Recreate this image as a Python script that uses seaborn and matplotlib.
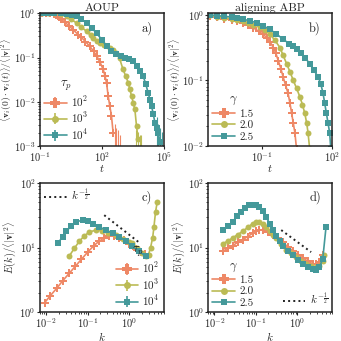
import numpy as np
import matplotlib
matplotlib.use("Agg")
import matplotlib.pyplot as plt
import seaborn as sns
from matplotlib.lines import Line2D
from matplotlib.collections import LineCollection
from matplotlib.container import ErrorbarContainer

sns.set_theme(style="ticks")
plt.rcParams.update({
    "font.family": "serif",
    "font.serif": ["cmr10", "DejaVu Serif"],
    "mathtext.fontset": "cm",
    "axes.formatter.use_mathtext": True,
    "font.size": 8,
    "axes.linewidth": 1.1,
    "axes.edgecolor": "#222222",
})

colors = ["#EE8866", "#BBBB55", "#44999A"]
markers = ["P", "o", "s"]

# ---- panel a: AOUP velocity autocorrelation (log10 values)
tau_labels = [r"$10^2$", r"$10^3$", r"$10^4$"]
a_logt_1 = [-0.9, -0.7, -0.5, -0.3, -0.2, -0.1, 0.0, 0.2, 0.4, 0.6, 0.85, 1.0, 1.2, 1.4, 1.6,
            1.75, 1.9, 2.06, 2.15, 2.22, 2.3, 2.38, 2.46, 2.54]
a_logc_1 = [0, 0, 0, -0.01, -0.04, -0.08, -0.12, -0.2, -0.28, -0.37, -0.48, -0.54, -0.64, -0.74, -0.86,
            -0.97, -1.10, -1.27, -1.42, -1.57, -1.87, -2.10, -2.32, -2.70]
a_logt_2 = [-0.9, -0.6, -0.3, 0.0, 0.29, 0.5, 0.77, 1.0, 1.26, 1.45, 1.58, 1.75, 1.9, 2.1, 2.38,
            2.55, 2.70, 2.85, 3.02, 3.15, 3.27, 3.35, 3.43, 3.51, 3.59, 3.67, 3.75]
a_logc_2 = [0, 0, 0, -0.01, -0.07, -0.13, -0.22, -0.31, -0.41, -0.50, -0.56, -0.62, -0.67, -0.72, -0.78,
            -0.83, -0.90, -1.02, -1.27, -1.42, -1.57, -1.72, -1.87, -2.02, -2.17, -2.55, -2.85]
a_logt_3 = [-0.9, -0.6, -0.3, 0.0, 0.3, 0.55, 0.77, 1.0, 1.26, 1.5, 1.74, 2.0, 2.22, 2.45, 2.70,
            2.9, 3.1, 3.3, 3.5, 3.7, 3.85, 3.99, 4.12, 4.23, 4.32, 4.40, 4.48, 4.56, 4.64, 4.72, 4.8]
a_logc_3 = [0, 0, 0, 0, -0.01, -0.03, -0.07, -0.13, -0.22, -0.33, -0.45, -0.60, -0.75, -0.85, -0.93,
            -0.97, -1.0, -1.03, -1.09, -1.2, -1.3, -1.42, -1.6, -1.80, -1.95, -2.10, -2.28, -2.47, -2.6, -2.70, -2.9]
# noisy tails with error bars
a_tail_logt = [[2.62, 2.7, 2.78, 2.86], [3.66, 3.74, 3.82, 3.9], [4.64, 4.72, 4.8, 4.88]]
a_tail_logc = [[-2.75, -2.85, -2.9, -3.0], [-2.9, -2.95, -3.0, -3.0], [-2.6, -2.75, -2.85, -2.95]]

# ---- panel b: aligning ABP
gamma_labels = ["1.5", "2.0", "2.5"]
b_logt_1 = [-3.2, -2.9, -2.6, -2.3, -2.07, -1.8, -1.6, -1.37, -1.15, -0.95, -0.80, -0.65, -0.52, -0.41,
            -0.31, -0.20, -0.10, 0.0, 0.11, 0.19, 0.26, 0.33, 0.40, 0.47]
b_logc_1 = [-0.02, -0.04, -0.06, -0.08, -0.10, -0.13, -0.16, -0.20, -0.25, -0.30, -0.35, -0.42, -0.50, -0.59,
            -0.70, -0.82, -0.95, -1.07, -1.20, -1.35, -1.50, -1.65, -1.80, -2.05]
b_logt_2 = [-3.2, -2.9, -2.6, -2.3, -2.07, -1.8, -1.6, -1.37, -1.1, -0.88, -0.66, -0.45, -0.24, -0.10,
            0.05, 0.19, 0.33, 0.47, 0.61, 0.72, 0.82, 0.90, 0.96, 1.03]
b_logc_2 = [-0.01, -0.03, -0.045, -0.06, -0.075, -0.10, -0.12, -0.15, -0.19, -0.24, -0.30, -0.39, -0.50, -0.62,
            -0.75, -0.87, -1.0, -1.12, -1.25, -1.37, -1.5, -1.65, -1.8, -2.05]
b_logt_3 = [-3.2, -2.9, -2.6, -2.3, -2.07, -1.8, -1.5, -1.22, -0.95, -0.66, -0.40, -0.10, 0.15, 0.30,
            0.47, 0.65, 0.85, 1.03, 1.20, 1.39, 1.50, 1.60, 1.67, 1.74, 1.81, 1.88, 1.93]
b_logc_3 = [-0.005, -0.015, -0.025, -0.035, -0.05, -0.07, -0.095, -0.125, -0.17, -0.225, -0.29, -0.375, -0.44, -0.48,
            -0.525, -0.58, -0.66, -0.75, -0.84, -0.95, -1.05, -1.2, -1.35, -1.5, -1.65, -1.8, -2.05]

# ---- panel c: AOUP energy spectrum
c_logk_1 = [-2.04, -1.9, -1.75, -1.6, -1.45, -1.3, -1.15, -1.0, -0.85, -0.72, -0.6, -0.48, -0.36, -0.24,
            -0.12, 0.0, 0.1, 0.2, 0.3, 0.38]
c_loge_1 = [0.15, 0.26, 0.37, 0.49, 0.60, 0.71, 0.82, 0.93, 1.03, 1.10, 1.15, 1.18, 1.18, 1.15,
            1.11, 1.06, 1.02, 0.97, 0.93, 0.90]
c_logk_2 = [-1.44, -1.32, -1.2, -1.08, -0.96, -0.8, -0.65, -0.5, -0.32, -0.15, 0.0, 0.08, 0.2, 0.32,
            0.40, 0.47, 0.52, 0.57, 0.60, 0.64, 0.68]
c_loge_2 = [0.875, 0.99, 1.1, 1.18, 1.24, 1.27, 1.26, 1.23, 1.2, 1.13, 1.09, 1.07, 1.0, 0.92,
            0.87, 0.89, 1.0, 1.15, 1.31, 1.55, 1.70]
c_logk_3 = [-1.72, -1.6, -1.52, -1.4, -1.28, -1.12, -1.0, -0.88, -0.72, -0.56, -0.4, -0.24, -0.08, 0.08,
            0.24, 0.40]
c_loge_3 = [1.07, 1.17, 1.25, 1.33, 1.40, 1.42, 1.41, 1.37, 1.32, 1.27, 1.22, 1.17, 1.10, 1.02,
            0.94, 0.87]
c_ref_logk = [-0.6, 0.28]
c_ref_loge = [1.5, 1.06]

# ---- panel d: aligning ABP energy spectrum
d_logk_1 = [-1.80, -1.68, -1.56, -1.44, -1.32, -1.2, -1.08, -1.0, -0.92, -0.84, -0.72, -0.59, -0.47, -0.35,
            -0.23, -0.11, 0.01, 0.13, 0.25, 0.37, 0.45, 0.53, 0.61]
d_loge_1 = [0.94, 0.99, 1.03, 1.08, 1.12, 1.17, 1.22, 1.25, 1.27, 1.27, 1.24, 1.20, 1.14, 1.08,
            1.01, 0.95, 0.89, 0.84, 0.79, 0.75, 0.74, 0.78, 0.89]
d_logk_2 = [-1.80, -1.68, -1.56, -1.44, -1.32, -1.2, -1.08, -1.0, -0.92, -0.84, -0.75, -0.67, -0.59, -0.51,
            -0.39, -0.27, -0.15, -0.03, 0.09, 0.21, 0.33, 0.45, 0.53, 0.61, 0.65]
d_loge_2 = [1.06, 1.10, 1.15, 1.20, 1.25, 1.31, 1.37, 1.40, 1.40, 1.37, 1.31, 1.25, 1.20, 1.15,
            1.06, 0.97, 0.91, 0.85, 0.80, 0.75, 0.72, 0.70, 0.72, 0.80, 0.88]
d_logk_3 = [-1.80, -1.68, -1.56, -1.46, -1.36, -1.26, -1.16, -1.08, -1.0, -0.92, -0.84, -0.75, -0.67, -0.59,
            -0.51, -0.43, -0.35, -0.23, -0.11, 0.01, 0.13, 0.25, 0.37, 0.45, 0.53, 0.61, 0.69]
d_loge_3 = [1.27, 1.33, 1.40, 1.48, 1.55, 1.61, 1.65, 1.66, 1.66, 1.63, 1.57, 1.47, 1.37, 1.27,
            1.18, 1.10, 1.03, 0.95, 0.88, 0.81, 0.75, 0.70, 0.67, 0.66, 0.70, 0.82, 1.32]
d_ref_logk = [-0.39, 0.33]
d_ref_loge = [1.27, 0.93]

fig = plt.figure(figsize=(3.41, 3.41), dpi=100)
ax_a = fig.add_axes([0.117, 0.572, 0.364, 0.389])
ax_b = fig.add_axes([0.610, 0.572, 0.365, 0.389])
ax_c = fig.add_axes([0.117, 0.084, 0.364, 0.380])
ax_d = fig.add_axes([0.610, 0.084, 0.365, 0.380])


def draw(ax, xs, ys):
    for x, y, c, m in zip(xs, ys, colors, markers):
        ms = 5.6 if m == "P" else 4.3
        sns.lineplot(x=np.power(10.0, x), y=np.power(10.0, y), ax=ax, color=c, marker=m,
                     markersize=ms, markeredgewidth=0, lw=1.2, sort=False, estimator=None)


def handles(with_err):
    hs = []
    for c, m in zip(colors, markers):
        ms = 6.5 if m == "P" else 5
        ln = Line2D([], [], color=c, marker=m, markersize=ms, markeredgewidth=0, lw=1.2)
        if with_err:
            lc = LineCollection([], colors=c, linewidths=1.2)
            hs.append(ErrorbarContainer((ln, (), (lc,)), has_xerr=False, has_yerr=True))
        else:
            hs.append(ln)
    return hs


ref_handle = Line2D([], [], color="#222222", ls=":", lw=1.4)
leg_kw = dict(frameon=False, fontsize=8, title_fontsize=9, handlelength=2.0,
              labelspacing=0.15, handletextpad=0.4, borderpad=0.2, borderaxespad=0.2)
corr_label = r"$\langle \mathbf{v}_i(0)\cdot\mathbf{v}_i(t)\rangle/\langle|\mathbf{v}|^2\rangle$"
spec_label = r"$E(k)/\langle|\mathbf{v}|^2\rangle$"

# panel a
draw(ax_a, [a_logt_1, a_logt_2, a_logt_3], [a_logc_1, a_logc_2, a_logc_3])
for tx, ty, c in zip(a_tail_logt, a_tail_logc, colors):
    yv = np.power(10.0, ty)
    ax_a.errorbar(np.power(10.0, tx), yv, yerr=[yv * 0.95, yv * 0.8], fmt="none", ecolor=c, elinewidth=0.8)
ax_a.set_xscale("log")
ax_a.set_yscale("log")
ax_a.set_xlim(1e-1, 1e5)
ax_a.set_ylim(1e-3, 1)
ax_a.set_xticks([1e-1, 1e2, 1e5])
ax_a.set_title("AOUP", fontsize=8.5, pad=2)
ax_a.set_xlabel(r"$t$", fontsize=8, labelpad=-0.5)
ax_a.set_ylabel(corr_label, fontsize=6.9)
ax_a.yaxis.set_label_coords(-0.205, 0.5)
ax_a.legend(handles(True), tau_labels, title=r"$\tau_p$", loc="lower left", **leg_kw)

# panel b
draw(ax_b, [b_logt_1, b_logt_2, b_logt_3], [b_logc_1, b_logc_2, b_logc_3])
ax_b.set_xscale("log")
ax_b.set_yscale("log")
ax_b.set_xlim(5e-4, 1e2)
ax_b.set_ylim(1e-2, 1.05)
ax_b.set_xticks([1e-1, 1e2])
ax_b.set_title("aligning ABP", fontsize=8.5, pad=2)
ax_b.set_xlabel(r"$t$", fontsize=8, labelpad=-0.5)
ax_b.set_ylabel(corr_label, fontsize=6.9)
ax_b.yaxis.set_label_coords(-0.2, 0.5)
ax_b.legend(handles(False), gamma_labels, title=r"$\gamma$", loc="lower left", **leg_kw)

# panel c
draw(ax_c, [c_logk_1, c_logk_2, c_logk_3], [c_loge_1, c_loge_2, c_loge_3])
ax_c.plot(np.power(10.0, c_ref_logk), np.power(10.0, c_ref_loge), ls=":", color="#222222", lw=1.4)
ax_c.set_xscale("log")
ax_c.set_yscale("log")
ax_c.set_xlim(7e-3, 7)
ax_c.set_ylim(1, 100)
ax_c.set_xlabel(r"$k$", fontsize=8, labelpad=-0.5)
ax_c.set_ylabel(spec_label, fontsize=7.5)
ax_c.yaxis.set_label_coords(-0.18, 0.5)
leg1 = ax_c.legend(handles(True), tau_labels, title=r"$\tau_p$", loc="lower right", **leg_kw)
ax_c.add_artist(leg1)
ax_c.legend([ref_handle], [r"$k^{-\frac{1}{2}}$"], loc="upper left", **leg_kw)

# panel d
draw(ax_d, [d_logk_1, d_logk_2, d_logk_3], [d_loge_1, d_loge_2, d_loge_3])
ax_d.plot(np.power(10.0, d_ref_logk), np.power(10.0, d_ref_loge), ls=":", color="#222222", lw=1.4)
ax_d.set_xscale("log")
ax_d.set_yscale("log")
ax_d.set_xlim(7e-3, 7)
ax_d.set_ylim(1, 100)
ax_d.set_xlabel(r"$k$", fontsize=8, labelpad=-0.5)
ax_d.set_ylabel(spec_label, fontsize=7.5)
ax_d.yaxis.set_label_coords(-0.17, 0.5)
leg2 = ax_d.legend(handles(False), gamma_labels, title=r"$\gamma$", loc="lower left", **leg_kw)
ax_d.add_artist(leg2)
ax_d.legend([ref_handle], [r"$k^{-\frac{1}{2}}$"], loc="lower right", **leg_kw)

for ax, lab in zip([ax_a, ax_b, ax_c, ax_d], ["a)", "b)", "c)", "d)"]):
    ax.text(0.86, 0.89, lab, transform=ax.transAxes, ha="center", va="center", fontsize=9)
    ax.tick_params(which="major", direction="out", length=2.5, width=0.8, labelsize=7.5, pad=0.5)
    ax.tick_params(which="minor", direction="out", length=1.5, width=0.6)
    ax.tick_params(axis="x", which="minor", bottom=True)

fig.savefig("out.png", dpi=100)
